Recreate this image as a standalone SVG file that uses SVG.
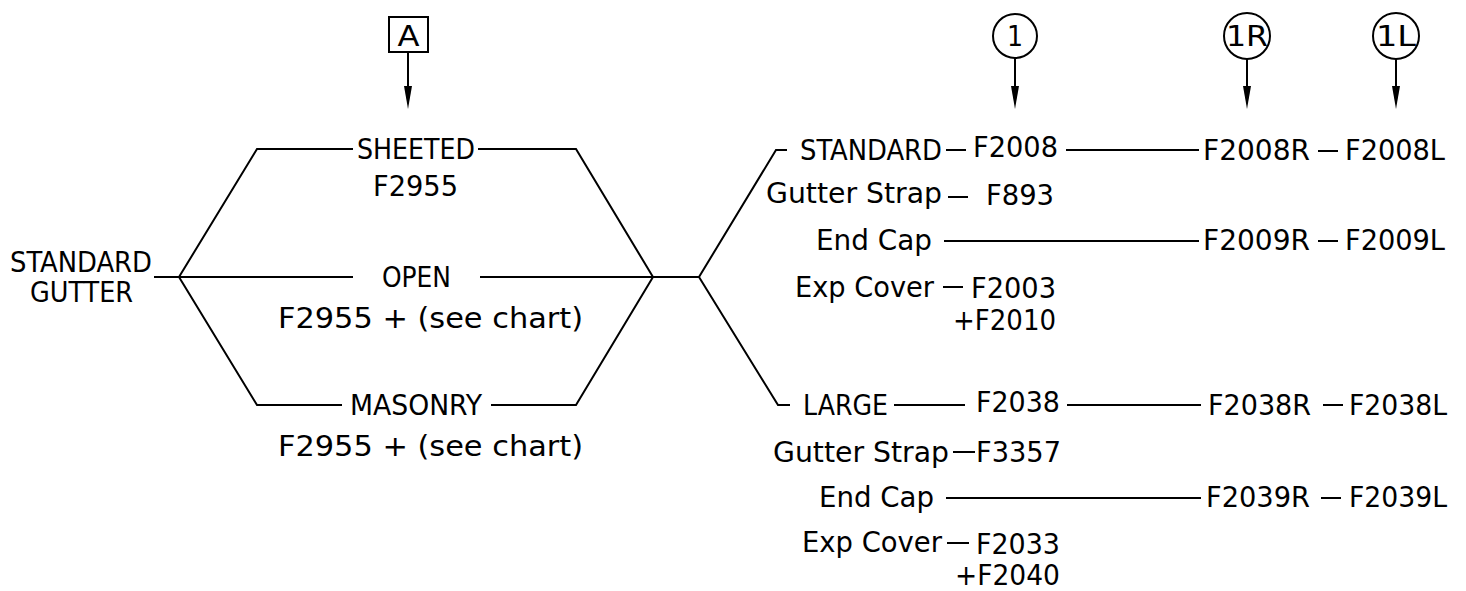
<svg xmlns="http://www.w3.org/2000/svg" width="1466" height="591" viewBox="0 0 1466 591">
<defs>
<style>
text{font-family:"Liberation Sans Narrow","DejaVu Sans Condensed","Liberation Sans",Arial,sans-serif;font-size:28px;fill:#000}
.c{text-anchor:middle}
line,polyline{stroke:#000;stroke-width:2;fill:none}
.sym{fill:#fff;stroke:#000;stroke-width:2}
</style>
</defs>
<rect width="1466" height="591" fill="#fff"/>

<g id="connectors">
<line x1="154" y1="277" x2="179" y2="277"/>
<polyline points="179,277 257,149 353,149"/>
<polyline points="478,149 576,149 653,277"/>
<line x1="179" y1="277" x2="353" y2="277"/>
<line x1="480" y1="277" x2="700" y2="277"/>
<polyline points="179,277 257,405 342,405"/>
<polyline points="491,405 576,405 653,277"/>
<polyline points="699,277 776,150 787,150"/>
<polyline points="699,277 778,405 790,405"/>
<line x1="946" y1="150" x2="966" y2="150"/>
<line x1="1066" y1="150" x2="1199" y2="150"/>
<line x1="1318" y1="151" x2="1338" y2="151"/>
<line x1="948" y1="197" x2="968" y2="197"/>
<line x1="944" y1="241" x2="1199" y2="241"/>
<line x1="1318" y1="241" x2="1338" y2="241"/>
<line x1="943" y1="287" x2="963" y2="287"/>
<line x1="894" y1="405" x2="965" y2="405"/>
<line x1="1067" y1="405" x2="1201" y2="405"/>
<line x1="1323" y1="405" x2="1343" y2="405"/>
<line x1="953" y1="452" x2="975" y2="452"/>
<line x1="946" y1="498" x2="1201" y2="498"/>
<line x1="1321" y1="498" x2="1341" y2="498"/>
<line x1="947" y1="543" x2="969" y2="543"/>
<line x1="408" y1="52" x2="408" y2="86"/>
<path d="M404,86 L412,86 L408,109 Z" fill="#000"/>
<line x1="1015" y1="58" x2="1015" y2="86"/>
<path d="M1011,86 L1019,86 L1015,109 Z" fill="#000"/>
<line x1="1247" y1="58" x2="1247" y2="86"/>
<path d="M1243,86 L1251,86 L1247,109 Z" fill="#000"/>
<line x1="1396" y1="58" x2="1396" y2="86"/>
<path d="M1392,86 L1400,86 L1396,109 Z" fill="#000"/>
</g>

<g id="ref-A">
<rect class="sym" x="389" y="17" width="39" height="35"/>
<text class="c" x="408.5" y="46" textLength="22" lengthAdjust="spacingAndGlyphs">A</text>
</g>
<g id="ref-1">
<circle class="sym" cx="1015" cy="36" r="22"/>
<text class="c" x="1015" y="46">1</text>
</g>
<g id="ref-1R">
<circle class="sym" cx="1247" cy="36" r="23"/>
<text class="c" x="1247" y="46" textLength="42" lengthAdjust="spacingAndGlyphs">1R</text>
</g>
<g id="ref-1L">
<circle class="sym" cx="1396" cy="36" r="23"/>
<text class="c" x="1396" y="46" textLength="40" lengthAdjust="spacingAndGlyphs">1L</text>
</g>

<g id="standard-gutter">
<text x="10" y="272" textLength="142" lengthAdjust="spacingAndGlyphs">STANDARD</text>
<text x="30" y="302" textLength="103" lengthAdjust="spacingAndGlyphs">GUTTER</text>
</g>
<g id="sheeted">
<text x="357" y="159" textLength="118" lengthAdjust="spacingAndGlyphs">SHEETED</text>
<text x="373" y="196" textLength="85" lengthAdjust="spacingAndGlyphs">F2955</text>
</g>
<g id="open">
<text x="382" y="287" textLength="69" lengthAdjust="spacingAndGlyphs">OPEN</text>
<text x="278" y="328" textLength="305" lengthAdjust="spacingAndGlyphs">F2955 + (see chart)</text>
</g>
<g id="masonry">
<text x="350" y="415" textLength="132" lengthAdjust="spacingAndGlyphs">MASONRY</text>
<text x="278" y="456" textLength="305" lengthAdjust="spacingAndGlyphs">F2955 + (see chart)</text>
</g>

<g id="standard">
<text x="800" y="160" textLength="142" lengthAdjust="spacingAndGlyphs">STANDARD</text>
<text x="973" y="157" textLength="85" lengthAdjust="spacingAndGlyphs">F2008</text>
<text x="1203" y="160" textLength="107" lengthAdjust="spacingAndGlyphs">F2008R</text>
<text x="1345" y="160" textLength="100" lengthAdjust="spacingAndGlyphs">F2008L</text>
<text x="766" y="203" textLength="176" lengthAdjust="spacingAndGlyphs">Gutter Strap</text>
<text x="986" y="205" textLength="68" lengthAdjust="spacingAndGlyphs">F893</text>
<text x="816" y="250" textLength="116" lengthAdjust="spacingAndGlyphs">End Cap</text>
<text x="1203" y="250" textLength="107" lengthAdjust="spacingAndGlyphs">F2009R</text>
<text x="1345" y="250" textLength="100" lengthAdjust="spacingAndGlyphs">F2009L</text>
<text x="795" y="297" textLength="139" lengthAdjust="spacingAndGlyphs">Exp Cover</text>
<text x="971" y="298" textLength="85" lengthAdjust="spacingAndGlyphs">F2003</text>
<text x="953" y="330" textLength="103" lengthAdjust="spacingAndGlyphs">+F2010</text>
</g>

<g id="large">
<text x="803" y="415" textLength="85" lengthAdjust="spacingAndGlyphs">LARGE</text>
<text x="976" y="412" textLength="84" lengthAdjust="spacingAndGlyphs">F2038</text>
<text x="1208" y="415" textLength="103" lengthAdjust="spacingAndGlyphs">F2038R</text>
<text x="1349" y="415" textLength="98" lengthAdjust="spacingAndGlyphs">F2038L</text>
<text x="773" y="462" textLength="176" lengthAdjust="spacingAndGlyphs">Gutter Strap</text>
<text x="976" y="462" textLength="85" lengthAdjust="spacingAndGlyphs">F3357</text>
<text x="819" y="507" textLength="115" lengthAdjust="spacingAndGlyphs">End Cap</text>
<text x="1206" y="507" textLength="104" lengthAdjust="spacingAndGlyphs">F2039R</text>
<text x="1349" y="507" textLength="98" lengthAdjust="spacingAndGlyphs">F2039L</text>
<text x="802" y="552" textLength="140" lengthAdjust="spacingAndGlyphs">Exp Cover</text>
<text x="976" y="554" textLength="84" lengthAdjust="spacingAndGlyphs">F2033</text>
<text x="955" y="585" textLength="105" lengthAdjust="spacingAndGlyphs">+F2040</text>
</g>
</svg>
